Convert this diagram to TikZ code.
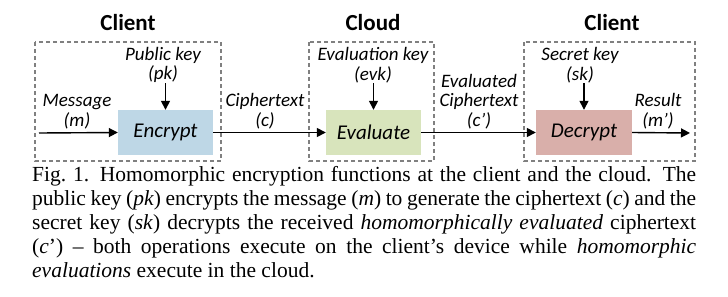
\documentclass[tikz,border=0pt]{standalone}
\usepackage{fontspec}
\setmainfont{Liberation Serif}
\newfontfamily\calfont{Carlito}
\usepackage{tikz}
\usetikzlibrary{arrows.meta,positioning,calc}

\definecolor{encblue}{RGB}{190,215,230}
\definecolor{evagreen}{RGB}{216,228,188}
\definecolor{decred}{RGB}{217,175,170}

\begin{document}
\begin{tikzpicture}[x=1pt,y=-1pt,
  font=\calfont,
  t/.style={inner sep=0pt,font=\calfont\bfseries\fontsize{23}{26}\selectfont},
  o/.style={minimum width=95pt,minimum height=45pt,inner sep=0pt,
            font=\calfont\itshape\fontsize{21}{24}\selectfont},
  k/.style={align=center,inner sep=0pt,anchor=south,
            font=\calfont\itshape\fontsize{19}{19.5}\selectfont},
  g/.style={draw=black!50,dash pattern=on 4pt off 3pt,line width=1.2pt},
  a/.style={-{Triangle[length=9pt,width=9pt]},line width=1.4pt}]
\useasboundingbox (0,0) rectangle (728,297);

% client / cloud / client frames
\draw[g] (35,42) rectangle (221,161);
\draw[g] (309,42) rectangle (434,161);
\draw[g] (524,42) rectangle (695,161);
\node[t] (cl1) at (128,23) {Client};
\node[t] (cld) at (373,23) {Cloud};
\node[t] (cl2) at (612,23) {Client};

% operations
\node[o,fill=encblue] (enc) at (165.5,132.5) {Encrypt};
\node[o,fill=evagreen] (eva) at (373.5,132.5) {Evaluate};
\node[o,fill=decred,minimum width=96pt] (dec) at (584,132.5) {Decrypt};

% keys
\node[k] (pk)  at (163,83) {Public key\\(pk)};
\node[k] (evk) at (373,83) {Evaluation key\\(evk)};
\node[k] (sk)  at (580,83) {Secret key\\(sk)};

% data
\node[k] (msg) at (77,129)  {Message\\(m)};
\node[k] (ct)  at (265,129) {Ciphertext\\(c)};
\node[k] (ect) at (479,129) {Evaluated\\Ciphertext\\(c’)};
\node[k] (res) at (658,129) {Result\\(m’)};
\coordinate (in)  at (39,133);
\coordinate (out) at (690,133);

\foreach \kk/\oo in {pk/enc,evk/eva,sk/dec} { \draw[a] (\kk.south -| \oo.north) -- (\oo.north); }
\draw[a] (in) -- (enc.west);
\draw[a] (enc.east) -- (eva.west);
\draw[a] (eva.east) -- (dec.west);
\draw[a] (dec.east) -- (out);

% caption
\node[anchor=north west,inner sep=0pt,text width=664pt,align=justify,
      font=\rmfamily\fontsize{21.5}{24}\selectfont] (cap) at (32,166)
  {\hyphenpenalty=10000 Fig.~1.\hskip0.5em Homomorphic encryption functions at the client and the cloud. The\linebreak
   public key (\textit{pk}) encrypts the message (\textit{m}) to generate the ciphertext (\textit{c}) and the\linebreak
   secret key (\textit{sk}) decrypts the received \textit{homomorphically evaluated} ciphertext\linebreak
   (\textit{c}’) -- both operations execute on the client’s device while \textit{homomorphic}\linebreak
   \textit{evaluations} execute in the cloud.};
\end{tikzpicture}
\end{document}
